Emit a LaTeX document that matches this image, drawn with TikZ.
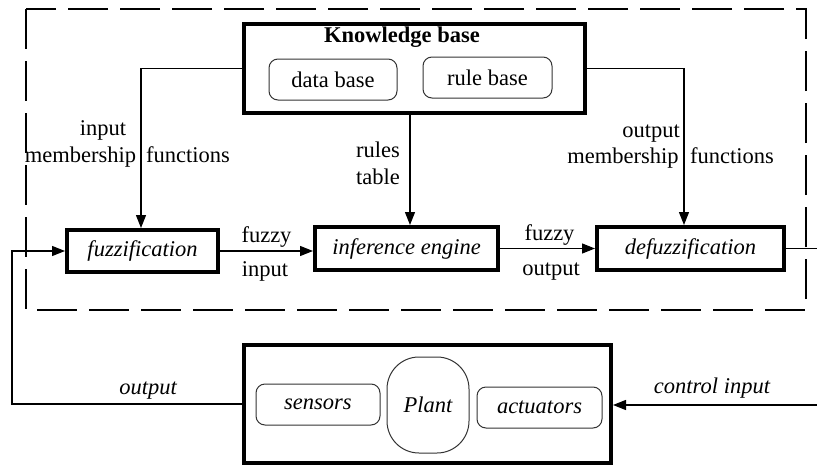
\documentclass[tikz,border=0pt]{standalone}
\usepackage{fontspec}
\setmainfont{Liberation Serif}
\usetikzlibrary{arrows.meta}
\begin{document}
\begin{tikzpicture}[x=1pt,y=-1pt,
  every node/.style={font=\fontsize{22.5}{27}\selectfont, inner sep=0pt},
  bigbox/.style={draw, line width=4pt, minimum width=#1},
  rbox/.style={draw=black!80, line width=1pt, rounded corners=9pt, minimum height=41pt},
  lbl/.style={anchor=base},
  arr/.style={line width=1.2pt, -{Triangle[length=13pt,width=10pt]}},
  ln/.style={line width=1.2pt}]
\useasboundingbox (0,0) rectangle (817,466);
% dashed frame
\draw[line width=1.2pt, dash pattern=on 40pt off 12pt] (26,9) rectangle (806,310);
% knowledge base
\node[bigbox=341pt, minimum height=89pt] (kb) at (414.5,68.5) {};
\node[lbl, font=\fontsize{22.5}{27}\selectfont\bfseries] (kbt) at (402,42) {Knowledge base};
\node[rbox, minimum width=128pt] (db) at (333,79.5) {data base};
\node[rbox, minimum width=129pt] (rb) at (487.5,77.5) {rule base};
% processing boxes
\node[bigbox=151pt, minimum height=42pt] (fuz) at (142.5,251) {\itshape fuzzification};
\node[bigbox=183pt, minimum height=43pt] (inf) at (406.5,248.5) {\itshape inference engine};
\node[bigbox=187pt, minimum height=43pt] (def) at (690.5,248.5) {\itshape defuzzification};
% plant
\node[bigbox=367pt, minimum height=118pt] (pl) at (427.5,404) {};
\node[rbox, minimum width=124pt] (sen) at (318,404.5) {\itshape sensors};
\node[draw=black!80, line width=1pt, rounded corners=32pt, minimum width=82pt, minimum height=96pt] (plc) at (428,405) {\itshape Plant};
\node[rbox, minimum width=125pt] (act) at (539.5,407.5) {\itshape actuators};
% coordinates
\coordinate (fb) at (12,300);
\coordinate (outend) at (817,247);
\coordinate (cin) at (817,405);
% connectors
\draw[arr] (kb.west) -| ([xshift=-1.5pt]fuz.north);
\draw[arr] ([xshift=3.5pt]inf.north |- kb.south) -- ([xshift=3.5pt]inf.north);
\draw[arr] (kb.east) -| ([xshift=-6.5pt]def.north);
\draw[arr] (fuz.east) -- (fuz.east -| inf.west);
\draw[arr] (inf.east) -- (def.west);
\draw[ln] (def.east) -- (def.east -| outend);
\draw[arr] (pl.west) -| (fb) |- (fuz.west);
\draw[arr] (cin) -- (cin -| pl.east);
% labels
\node[lbl] (l1) at (103,135) {input};
\node[lbl] (l2) at (80.5,162) {membership};
\node[lbl] (l3) at (188,162) {functions};
\node[lbl] (l4) at (378,157) {rules};
\node[lbl] (l5) at (378,184) {table};
\node[lbl] (l6) at (651,137) {output};
\node[lbl] (l7) at (623,163) {membership};
\node[lbl] (l8) at (732,163) {functions};
\node[lbl] (l9) at (266.5,242) {fuzzy};
\node[lbl] (l10) at (265,276) {input};
\node[lbl] (l11) at (549.5,240) {fuzzy};
\node[lbl] (l12) at (551,275) {output};
\node[lbl] (l13) at (148,394) {\itshape output};
\node[lbl] (l14) at (712,393) {\itshape control input};
\end{tikzpicture}
\end{document}
